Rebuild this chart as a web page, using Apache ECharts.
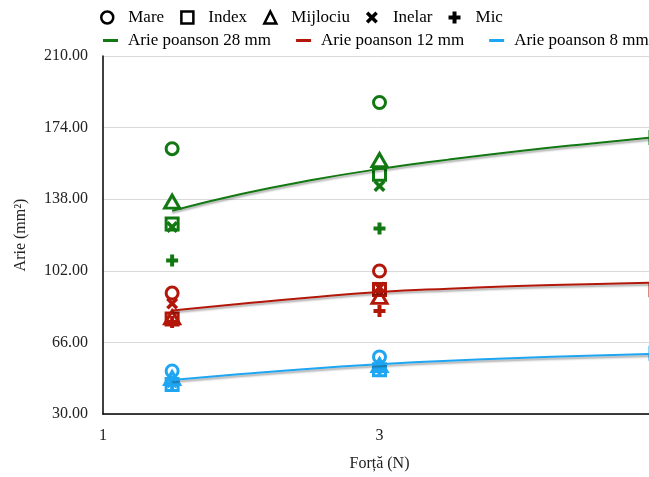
<!DOCTYPE html>
<html>
<head>
<meta charset="utf-8">
<script src="https://cdn.jsdelivr.net/npm/echarts@6/dist/echarts.min.js"></script>
<style>
  html, body { margin: 0; padding: 0; background: #fff; }
  #chart { width: 649px; height: 477px; }
</style>
</head>
<body>
<div id="chart"></div>
<script>
// Force values (N) at which each finger area was measured
const forces = [1.5, 3, 5];

// Measured areas (mm²) per finger, for each punch diameter
const green_Mare     = [163.4, 186.6];
const green_Index    = [125.5, 150.6, 169.0];
const green_Mijlociu = [136.8, 157.6];
const green_Inelar   = [124.0, 144.6];
const green_Mic      = [107.2, 123.3];

const red_Mare     = [90.8, 101.9];
const red_Index    = [77.8, 92.6, 92.5];
const red_Mijlociu = [78.6, 88.9];
const red_Inelar   = [85.6, 93.6];
const red_Mic      = [76.3, 81.8];

const blue_Mare     = [51.6, 58.7];
const blue_Index    = [44.8, 52.2, 60.5];
const blue_Mijlociu = [48.1, 54.6];
const blue_Inelar   = [46.0, 53.4];
const blue_Mic      = [45.4, 52.8];

// Fitted area curves (punch 28 / 12 / 8 mm)
const fitForces = [1.5, 2, 2.5, 3, 3.5, 4, 4.5, 5];
const fit28 = [132.2, 140.6, 147.5, 153.2, 157.9, 162.1, 165.8, 169.2];
const fit12 = [82.0, 85.4, 88.6, 91.3, 93.0, 94.3, 95.3, 96.0];
const fit8  = [47.1, 50.1, 52.8, 55.0, 56.8, 58.2, 59.3, 60.2];

const yTicks = { min: 30, max: 210, step: 36 };

const GREEN = '#127812';
const RED = '#b3170a';
const BLUE = '#1fa6f2';
const FONT = 'Liberation Serif';

const X_PATH = 'path://M0,2.5 L2.5,0 L6,3.5 L9.5,0 L12,2.5 L8.5,6 L12,9.5 L9.5,12 L6,8.5 L2.5,12 L0,9.5 L3.5,6 Z';
const PLUS_PATH = 'path://M4,0 H8 V4 H12 V8 H8 V12 H4 V8 H0 V4 H4 Z';

const fingerStyles = {
  Mare:     { symbol: 'circle',   size: 12, hollow: true },
  Index:    { symbol: 'rect',     size: 12, hollow: true },
  Mijlociu: { symbol: 'triangle', size: [15, 13], hollow: true },
  Inelar:   { symbol: X_PATH,     size: 12, hollow: false },
  Mic:      { symbol: PLUS_PATH,  size: 12, hollow: false }
};

function pairs(values) {
  return values.map((v, i) => [forces[i], v]);
}

function fingerSeries(name, color, values) {
  const st = fingerStyles[name];
  return {
    type: 'scatter',
    name: name,
    data: pairs(values),
    symbol: st.symbol,
    symbolSize: st.size,
    clip: false,
    z: 3,
    itemStyle: st.hollow
      ? { color: 'rgba(255,255,255,0)', borderColor: color, borderWidth: 3, opacity: 1 }
      : { color: color, borderWidth: 0, opacity: 1 },
    emphasis: { disabled: true }
  };
}

function fitSeries(name, color, values) {
  return {
    type: 'line',
    name: name,
    data: values.map((v, i) => [fitForces[i], v]),
    smooth: true,
    showSymbol: false,
    symbol: 'none',
    z: 4,
    clip: false,
    color: color,
    lineStyle: {
      color: color, width: 2,
      shadowColor: 'rgba(0,0,0,0.35)', shadowBlur: 2, shadowOffsetY: 2
    },
    emphasis: { disabled: true }
  };
}

const groups = [
  [GREEN, { Mare: green_Mare, Index: green_Index, Mijlociu: green_Mijlociu, Inelar: green_Inelar, Mic: green_Mic }],
  [RED,   { Mare: red_Mare, Index: red_Index, Mijlociu: red_Mijlociu, Inelar: red_Inelar, Mic: red_Mic }],
  [BLUE,  { Mare: blue_Mare, Index: blue_Index, Mijlociu: blue_Mijlociu, Inelar: blue_Inelar, Mic: blue_Mic }]
];

const series = [];
groups.forEach(([color, fingers]) => {
  Object.keys(fingerStyles).forEach(name => series.push(fingerSeries(name, color, fingers[name])));
});
series.push(fitSeries('Arie poanson 28 mm', GREEN, fit28));
series.push(fitSeries('Arie poanson 12 mm', RED, fit12));
series.push(fitSeries('Arie poanson 8 mm', BLUE, fit8));

const hollowIcon = { color: 'rgba(255,255,255,0)', borderColor: '#000', borderWidth: 2.5, opacity: 1 };
const solidIcon = { color: '#000', borderWidth: 0, opacity: 1 };

const chart = echarts.init(document.getElementById('chart'), null, { renderer: 'canvas' });
chart.setOption({
  animation: false,
  backgroundColor: '#fff',
  textStyle: { fontFamily: FONT },
  // the x range runs slightly past the right edge of the canvas
  grid: { left: 103, top: 56, width: 553, height: 358, outerBoundsMode: 'none', containLabel: false },
  legend: [
    {
      left: 100, top: 9, padding: 0,
      itemWidth: 12, itemHeight: 12, itemGap: 16,
      selectedMode: false,
      textStyle: { fontFamily: FONT, fontSize: 17, color: '#000', padding: [0, 0, 0, 10] },
      data: [
        { name: 'Mare', icon: 'circle', itemStyle: hollowIcon },
        { name: 'Index', icon: 'rect', itemStyle: hollowIcon },
        { name: 'Mijlociu', icon: 'triangle', itemStyle: hollowIcon },
        { name: 'Inelar', icon: X_PATH, itemStyle: solidIcon },
        { name: 'Mic', icon: PLUS_PATH, itemStyle: solidIcon }
      ]
    },
    {
      left: 103, top: 32, padding: 0,
      itemWidth: 15, itemHeight: 3, itemGap: 25,
      selectedMode: false,
      textStyle: { fontFamily: FONT, fontSize: 17, color: '#000', padding: [0, 0, 0, 5] },
      data: [
        { name: 'Arie poanson 28 mm', icon: 'rect', itemStyle: { color: GREEN } },
        { name: 'Arie poanson 12 mm', icon: 'rect', itemStyle: { color: RED } },
        { name: 'Arie poanson 8 mm', icon: 'rect', itemStyle: { color: BLUE } }
      ]
    }
  ],
  xAxis: {
    type: 'value',
    min: 1, max: 5, interval: 2,
    name: 'Forță (N)',
    nameLocation: 'middle',
    nameGap: 42,
    nameTextStyle: { fontFamily: FONT, fontSize: 16, color: '#222' },
    axisLine: { show: true, lineStyle: { color: '#000', width: 1.5 } },
    axisTick: { show: false },
    axisLabel: { fontFamily: FONT, fontSize: 16, color: '#222', margin: 14, showMaxLabel: false },
    splitLine: { show: false }
  },
  yAxis: {
    type: 'value',
    min: yTicks.min, max: yTicks.max, interval: yTicks.step,
    name: 'Arie (mm²)',
    nameLocation: 'middle',
    nameGap: 74,
    nameTextStyle: { fontFamily: FONT, fontSize: 16, color: '#222' },
    axisLine: { show: true, lineStyle: { color: '#000', width: 1.5 } },
    axisTick: { show: false },
    axisLabel: { fontFamily: FONT, fontSize: 16, color: '#222', margin: 15,
                 formatter: v => v.toFixed(2) },
    splitLine: { show: true, lineStyle: { color: '#d9d9d9', width: 1 } }
  },
  series: series
});
</script>
</body>
</html>
